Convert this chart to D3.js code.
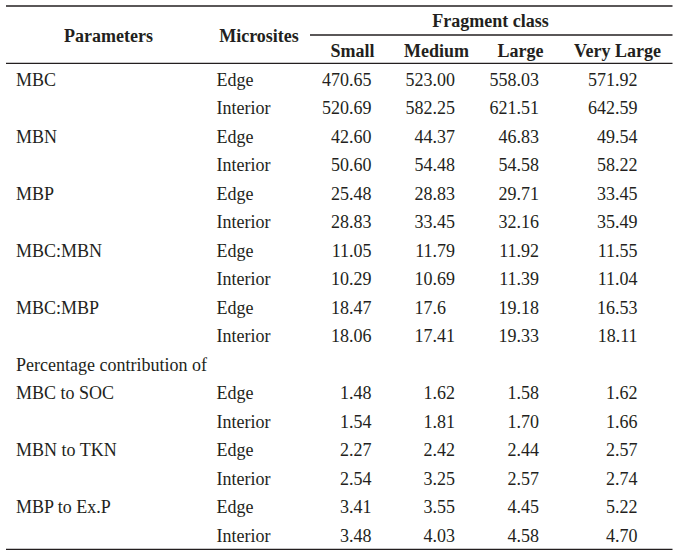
<!DOCTYPE html>
<html>
<head>
<meta charset="utf-8">
<script src="https://cdn.jsdelivr.net/npm/d3@7"></script>
</head>
<body style="margin:0">
<script>
const W = 680, H = 559;
const FS = 18;
const INK = "#231f20";

// table content
const params = ["MBC", "", "MBN", "", "MBP", "", "MBC:MBN", "", "MBC:MBP", "",
  "Percentage contribution of",
  "MBC to SOC", "", "MBN to TKN", "", "MBP to Ex.P", ""];
const sites = ["Edge", "Interior", "Edge", "Interior", "Edge", "Interior", "Edge", "Interior", "Edge", "Interior",
  "",
  "Edge", "Interior", "Edge", "Interior", "Edge", "Interior"];
const classes = ["Small", "Medium", "Large", "Very Large"];
const small = ["470.65", "520.69", "42.60", "50.60", "25.48", "28.83", "11.05", "10.29", "18.47", "18.06",
  "", "1.48", "1.54", "2.27", "2.54", "3.41", "3.48"];
const medium = ["523.00", "582.25", "44.37", "54.48", "28.83", "33.45", "11.79", "10.69", "17.6", "17.41",
  "", "1.62", "1.81", "2.42", "3.25", "3.55", "4.03"];
const large = ["558.03", "621.51", "46.83", "54.58", "29.71", "32.16", "11.92", "11.39", "19.18", "19.33",
  "", "1.58", "1.70", "2.44", "2.57", "4.45", "4.58"];
const veryLarge = ["571.92", "642.59", "49.54", "58.22", "33.45", "35.49", "11.55", "11.04", "16.53", "18.11",
  "", "1.62", "1.66", "2.57", "2.74", "5.22", "4.70"];

const cols = [small, medium, large, veryLarge];
const rows = params.map((p, i) => ({
  param: p,
  site: sites[i],
  vals: cols.map(c => c[i])
}));

const svg = d3.select("body").append("svg")
  .attr("width", W)
  .attr("height", H);

// row baselines, header centres, decimal-aligned value columns
const y = d3.scaleLinear().domain([0, rows.length - 1]).range([86, 541.5]);
const xHead = d3.scaleOrdinal().domain(classes).range([352.5, 436.5, 520.5, 617.5]);
const xRight = d3.scaleOrdinal().domain(classes).range([371.5, 455, 539, 637.5]);

const txt = (t, x, yy, anchor, bold) => {
  const el = svg.append("text")
    .attr("x", x)
    .attr("y", yy)
    .attr("fill", INK)
    .style("font-family", "'Liberation Serif'", "important")
    .style("font-size", FS + "px")
    .text(t);
  if (anchor) el.attr("text-anchor", anchor);
  if (bold) el.style("font-weight", "bold");
  return el;
};

// rules
const rule = (x1, x2, yy) => svg.append("line")
  .attr("x1", x1).attr("x2", x2).attr("y1", yy).attr("y2", yy)
  .attr("stroke", INK).attr("stroke-width", 1.3);
rule(6, 672.5, 6);
rule(310, 672.5, 35);
rule(6, 672.5, 63.3);
rule(6, 672.5, 549.3);

// header
txt("Parameters", 108.5, 41.7, "middle", true);
txt("Microsites", 259, 41.7, "middle", true);
txt("Fragment class", 490.5, 26.5, "middle", true);
classes.forEach(c => txt(c, xHead(c), 56.5, "middle", true));

// body
rows.forEach((d, i) => {
  const yy = y(i);
  if (d.param) txt(d.param, 16, yy);
  if (d.site) txt(d.site, 216.5, yy);
  d.vals.forEach((v, j) => {
    if (!v) return;
    const dec = v.split(".")[1].length;
    txt(v, xRight(classes[j]) - (2 - dec) * 0.5 * FS, yy, "end");
  });
});
</script>
</body>
</html>
